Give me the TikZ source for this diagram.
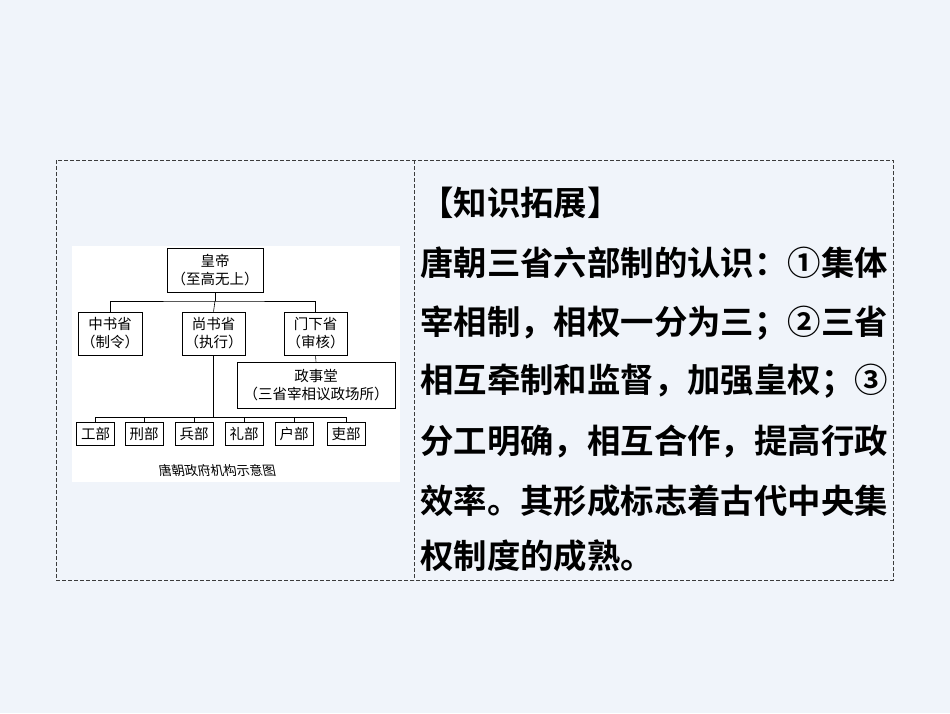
\documentclass[tikz,border=0pt]{standalone}
\usepackage{fontspec}
\newfontfamily\cjk{Noto Sans CJK SC}
\newfontfamily\cjkb{Noto Sans CJK SC Bold}
\definecolor{slidebg}{RGB}{240,244,250}
\tikzset{every picture/.style={line width=0.75pt}}
\tikzset{
  org/.style={draw,line width=0.6pt,align=center,font=\cjk\fontsize{14.5}{18}\selectfont,inner sep=1pt},
  dept/.style={org,minimum width=38pt,minimum height=23pt},
  line/.style={line width=0.6pt},
  txt/.style={anchor=west,font=\cjkb\fontsize{33.4}{36}\selectfont,inner sep=0pt},
  frame/.style={dash pattern=on 4pt off 2pt,line width=1pt,color={rgb, 255:red, 60; green, 60; blue, 60 }}
}
\begin{document}
\begin{tikzpicture}[x=1pt,y=1pt,yscale=-1,xscale=1]
	\useasboundingbox (0,0) rectangle (950,713);
	\fill [slidebg] (0,0) rectangle (950,713);
	% frame
	\draw [frame] (56,160) rectangle (893,580);
	\draw [frame] (414,160) -- (414,580);
	% picture area
	\fill [white] (72,246) rectangle (400,482);

	% Org nodes
	\node [org,minimum width=96pt,minimum height=44pt] (hd) at (215,270) {皇帝\\（至高无上）};
	\node [org,minimum width=64pt,minimum height=43pt] (zs) at (110,333.5) {中书省\\（制令）};
	\node [org,minimum width=63pt,minimum height=43pt] (ss) at (213.5,333.5) {尚书省\\（执行）};
	\node [org,minimum width=63pt,minimum height=43pt] (mx) at (315.5,333.5) {门下省\\（审核）};
	\node [org,minimum width=158pt,minimum height=46pt] (zst) at (316,385) {政事堂\\（三省宰相议政场所）};
	\node [dept] (gb) at (95.5,433.5) {工部};
	\node [dept] (xb) at (144,433.5) {刑部};
	\node [dept] (bb) at (194,433.5) {兵部};
	\node [dept] (lb) at (244,433.5) {礼部};
	\node [dept] (hb) at (294,433.5) {户部};
	\node [dept] (yb) at (346,433.5) {吏部};
	\coordinate (top) at (215,301);
	\coordinate (bot) at (213.5,417);

	% connectors
	\draw [line] (hd.south) -- (top);
	\draw [line] (zs.north) |- (top) -| (mx.north);
	\draw [line] (top) -- (ss.north);
	\draw [line] (mx.south) -- (zst.north);
	\draw [line] (ss.south) -- (bot);
	\foreach \d in {gb,xb,bb,lb,hb,yb}
		\draw [line] (\d.north) |- (bot);

	% caption
	\node [font=\cjk\fontsize{13}{15}\selectfont,xslant=-0.2] (cap) at (217,470) {唐朝政府机构示意图};

	% Text Node
	\node [txt] (t0) at (420,203) {【知识拓展】};
	\node [txt] (t1) at (420,263) {唐朝三省六部制的认识：①集体};
	\node [txt] (t2) at (420,323) {宰相制，相权一分为三；②三省};
	\node [txt] (t3) at (420,381) {相互牵制和监督，加强皇权；③};
	\node [txt] (t4) at (420,441) {分工明确，相互合作，提高行政};
	\node [txt] (t5) at (420,501) {效率。其形成标志着古代中央集};
	\node [txt] (t6) at (420,556) {权制度的成熟。};
\end{tikzpicture}
\end{document}
